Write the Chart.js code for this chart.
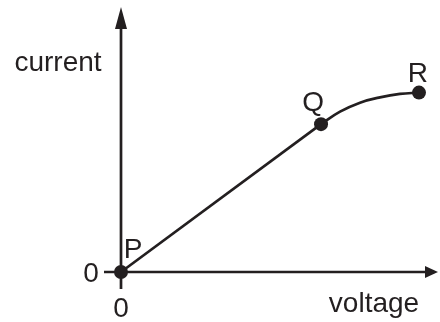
<!DOCTYPE html>
<html>
<head>
<meta charset="utf-8">
<script src="https://cdn.jsdelivr.net/npm/chart.js@4"></script>
<style>
  html, body { margin: 0; padding: 0; background: #fff; }
  #wrap { width: 440px; height: 322px; }
</style>
</head>
<body>
<div id="wrap"><canvas id="chart"></canvas></div>
<script>
// points on the graph (voltage, current), axes run 0..10
const pointNames = ['P', 'Q', 'R'];
const pointX = [0, 6.31, 9.4];
const pointY = [0, 5.58, 6.77];

// straight part P -> Q, then the bend Q -> R
const lineX = [0, 6.31];
const lineY = [0, 5.58];
const curveX = [6.31, 6.91, 7.54, 8.17, 8.8, 9.4];
const curveY = [5.58, 6.05, 6.39, 6.59, 6.72, 6.77];

const axisLabels = ['voltage', 'current'];
const originLabel = '0';

const ink = '#231f20';
const font = '28px "Liberation Sans", Arial, sans-serif';

const toPts = (xs, ys) => xs.map((x, i) => ({ x: x, y: ys[i] }));

// axes with arrow heads, drawn under the data
const axesPlugin = {
    id: 'axes',
    beforeDatasetsDraw(chart) {
        const { ctx, chartArea: a } = chart;
        ctx.save();
        ctx.strokeStyle = ink;
        ctx.fillStyle = ink;
        ctx.lineWidth = 2.7;
        ctx.beginPath();
        ctx.moveTo(a.left, a.bottom + 17);
        ctx.lineTo(a.left, a.top + 18);
        ctx.moveTo(a.left - 17, a.bottom);
        ctx.lineTo(a.right - 10, a.bottom);
        ctx.stroke();
        // up arrow
        ctx.beginPath();
        ctx.moveTo(a.left, a.top);
        ctx.lineTo(a.left - 6, a.top + 22);
        ctx.lineTo(a.left + 6, a.top + 22);
        ctx.closePath();
        ctx.fill();
        // right arrow
        ctx.beginPath();
        ctx.moveTo(a.right, a.bottom);
        ctx.lineTo(a.right - 13, a.bottom - 6);
        ctx.lineTo(a.right - 13, a.bottom + 6);
        ctx.closePath();
        ctx.fill();
        ctx.restore();
    },
    afterDraw(chart) {
        const { ctx, chartArea: a, scales } = chart;
        ctx.save();
        ctx.fillStyle = ink;
        ctx.font = font;
        ctx.textBaseline = 'alphabetic';
        ctx.textAlign = 'center';
        ctx.fillText(axisLabels[0], 374, 312);
        ctx.fillText(axisLabels[1], 58, 71);
        ctx.fillText(originLabel, a.left, 317);
        ctx.fillText(originLabel, 91, a.bottom + 10);
        // point names
        const offs = [[12, -14], [-8, -13], [-1, -11]];
        pointNames.forEach((n, i) => {
            const px = scales.x.getPixelForValue(pointX[i]) + offs[i][0];
            const py = scales.y.getPixelForValue(pointY[i]) + offs[i][1];
            ctx.fillText(n, px, py);
        });
        ctx.restore();
    }
};

new Chart(document.getElementById('chart'), {
    type: 'scatter',
    data: {
        datasets: [
            {
                data: toPts(lineX, lineY),
                showLine: true,
                borderColor: ink,
                borderWidth: 2.7,
                pointRadius: 0,
                clip: false
            },
            {
                data: toPts(curveX, curveY),
                showLine: true,
                tension: 0.4,
                borderColor: ink,
                borderWidth: 2.7,
                pointRadius: 0,
                clip: false
            },
            {
                data: toPts(pointX, pointY),
                showLine: false,
                backgroundColor: ink,
                borderColor: ink,
                pointRadius: 7,
                borderWidth: 0,
                clip: false
            }
        ]
    },
    options: {
        responsive: true,
        maintainAspectRatio: false,
        animation: false,
        layout: { autoPadding: false, padding: { left: 121, right: 2, top: 7, bottom: 50 } },
        scales: {
            x: { type: 'linear', min: 0, max: 10, display: false },
            y: { type: 'linear', min: 0, max: 10, display: false }
        },
        plugins: {
            legend: { display: false },
            tooltip: { enabled: false }
        }
    },
    plugins: [axesPlugin]
});
</script>
</body>
</html>
